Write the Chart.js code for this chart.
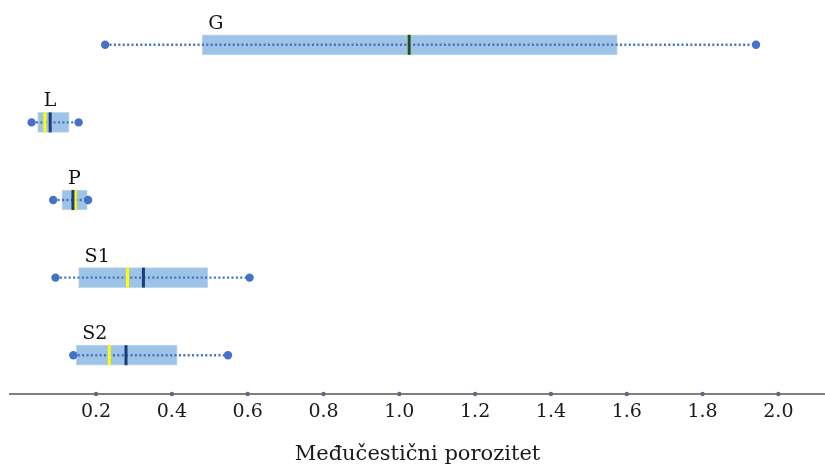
<!DOCTYPE html>
<html>
<head>
<meta charset="utf-8">
<script src="https://cdn.jsdelivr.net/npm/chart.js@4.4.1/dist/chart.umd.min.js"></script>
<style>
  html, body { margin: 0; padding: 0; background: #fff; }
  #wrap { width: 825px; height: 467px; position: relative; }
</style>
</head>
<body>
<div id="wrap"><canvas id="boxChart"></canvas></div>
<script>
// Box plot data
const categories = ['G', 'L', 'P', 'S1', 'S2'];
const minVals    = [0.224, 0.030, 0.087, 0.093, 0.140];
const q1Vals     = [0.480, 0.046, 0.110, 0.154, 0.148];
const medianVals = [1.026, 0.079, 0.139, 0.325, 0.279];
const meanVals   = [1.026, 0.065, 0.145, 0.283, 0.235];
const q3Vals     = [1.575, 0.129, 0.177, 0.495, 0.414];
const maxVals    = [1.941, 0.154, 0.179, 0.605, 0.548];
const tickValues = [0.2, 0.4, 0.6, 0.8, 1.0, 1.2, 1.4, 1.6, 1.8, 2.0];
const axisTitle  = 'Međučestični porozitet';

const serif = "'DejaVu Serif', 'Liberation Serif', serif";

// whiskers, medians, means, end dots and group labels
const boxExtras = {
    id: 'boxExtras',
    afterDatasetsDraw(chart) {
        const { ctx, scales: { x, y } } = chart;
        const meta = chart.getDatasetMeta(0);
        ctx.save();
        categories.forEach((cat, i) => {
            const cy = y.getPixelForValue(i);
            const half = meta.data[i].height / 2;
            const xMin = x.getPixelForValue(minVals[i]);
            const xMax = x.getPixelForValue(maxVals[i]);

            // dotted whisker line
            ctx.setLineDash([2, 2.4]);
            ctx.lineWidth = 2.4;
            ctx.strokeStyle = '#4472c4';
            ctx.beginPath();
            ctx.moveTo(xMin, cy);
            ctx.lineTo(xMax, cy);
            ctx.stroke();
            ctx.setLineDash([]);

            // end dots
            ctx.fillStyle = '#4472c4';
            [xMin, xMax].forEach(px => {
                ctx.beginPath();
                ctx.arc(px, cy, 4.2, 0, Math.PI * 2);
                ctx.fill();
            });

            // mean (yellow) then median (navy)
            ctx.lineWidth = 3;
            ctx.strokeStyle = '#ffff00';
            const xMean = x.getPixelForValue(meanVals[i]);
            ctx.beginPath();
            ctx.moveTo(xMean, cy - half);
            ctx.lineTo(xMean, cy + half);
            ctx.stroke();

            ctx.strokeStyle = i === 0 ? '#1e4a3e' : '#1f3b7a';
            const xMed = x.getPixelForValue(medianVals[i]);
            ctx.beginPath();
            ctx.moveTo(xMed, cy - half);
            ctx.lineTo(xMed, cy + half);
            ctx.stroke();

            // group label above the box
            ctx.fillStyle = '#111';
            ctx.font = '19px ' + serif;
            ctx.textAlign = 'left';
            ctx.textBaseline = 'alphabetic';
            ctx.fillText(cat, x.getPixelForValue(q1Vals[i]) + 6, cy - half - 6);
        });

        // small dots on the axis line at each tick
        ctx.fillStyle = '#5b6b86';
        tickValues.forEach(t => {
            ctx.beginPath();
            ctx.arc(x.getPixelForValue(t), x.top, 2.2, 0, Math.PI * 2);
            ctx.fill();
        });
        ctx.restore();
    }
};

new Chart(document.getElementById('boxChart'), {
    type: 'bar',
    data: {
        labels: categories,
        datasets: [{
            data: categories.map((c, i) => [q1Vals[i], q3Vals[i]]),
            backgroundColor: 'rgba(157, 195, 230, 1)',
            borderColor: 'rgba(190, 215, 240, 1)',
            borderWidth: 1,
            borderSkipped: false,
            barThickness: 20
        }]
    },
    options: {
        indexAxis: 'y',
        responsive: true,
        maintainAspectRatio: false,
        animation: false,
        layout: { padding: { left: 10, right: 0, top: 6, bottom: 0 } },
        plugins: {
            legend: { display: false },
            tooltip: { enabled: false }
        },
        scales: {
            x: {
                type: 'linear',
                min: -0.027,
                max: 2.123,
                afterBuildTicks: scale => {
                    scale.ticks = tickValues.map(v => ({ value: v }));
                },
                grid: { display: false, drawTicks: false },
                border: { display: true, color: '#7f7f7f', width: 2 },
                ticks: {
                    padding: 7,
                    maxRotation: 0,
                    color: '#1a1a1a',
                    font: { family: serif, size: 19 },
                    callback: v => Number(v).toFixed(1)
                },
                title: {
                    display: true,
                    text: axisTitle,
                    color: '#1a1a1a',
                    font: { family: serif, size: 21 },
                    padding: { top: 11, bottom: 0 }
                }
            },
            y: {
                type: 'category',
                display: false,
                offset: true
            }
        }
    },
    plugins: [boxExtras]
});
</script>
</body>
</html>
